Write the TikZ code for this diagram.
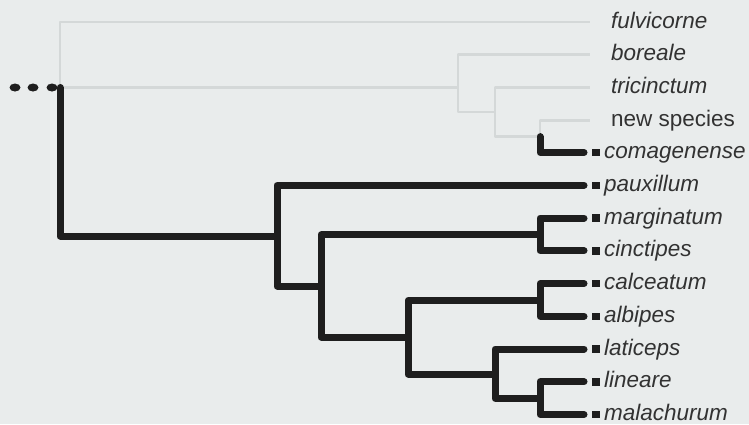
\documentclass[tikz,border=0pt]{standalone}
\usepackage{fontspec}
\setmainfont{Liberation Sans}
\usetikzlibrary{calc}
\definecolor{paper}{RGB}{233,236,236}
\definecolor{ghost}{RGB}{212,216,216}
\definecolor{ink}{RGB}{30,30,30}
\definecolor{txt}{RGB}{50,50,50}

\begin{document}
\begin{tikzpicture}[
            x=1pt, y=-1pt,
            font=\fontsize{22.5}{26}\selectfont,
            branch/.style ={line width=7pt, draw=ink, line join=round, line cap=round},
            faint/.style  ={line width=2.8pt, draw=ghost, line join=round},
            taxon/.style  ={anchor=base west, inner sep=0pt, text=txt, font=\fontsize{22.5}{26}\selectfont\itshape},
            tipbox/.style ={fill=ink, draw=none, minimum width=7.5pt, minimum height=7.5pt, inner sep=0pt},
            stemdot/.style={fill=ink, draw=none}
        ]

        \fill[paper] (0,0) rectangle (749,424);
        \useasboundingbox (0,0) rectangle (749,424);

        % leaf rows are 32.75px apart, first at y=22
        \foreach \name/\row in {fulvicorne/0, boreale/1, tricinctum/2, newsp/3}{
            \coordinate (\name) at (590, 22+32.75*\row);
        }
        \node[taxon] (fulvicorne-lbl) at (611, 28)    {fulvicorne};
        \node[taxon] (boreale-lbl)    at (611, 60.75) {boreale};
        \node[taxon] (tricinctum-lbl) at (611, 93.5)  {tricinctum};
        \node[taxon, font=\fontsize{22.5}{26}\selectfont] (newsp-lbl) at (611, 126.25) {new species};

        \foreach \name/\row in {comagenense/4, pauxillum/5, marginatum/6, cinctipes/7,
                                calceatum/8, albipes/9, laticeps/10, lineare/11, malachurum/12}{
            \coordinate (\name) at (584, 21.5+32.75*\row);
            \node[tipbox] (\name-box) at (596, 21.5+32.75*\row) {};
            \node[taxon] (\name-lbl) at (604, 27.5+32.75*\row) {\name};
        }

        % internal nodes
        \coordinate (root) at (60,87.5);
        \coordinate (W) at (458,87.5);
        \coordinate (X) at (495,112);
        \coordinate (Y) at (540,136.6);
        \coordinate (A) at (277,236);
        \coordinate (B) at (321,286);
        \coordinate (C) at (540,234.9);
        \coordinate (D) at (408,337);
        \coordinate (E) at (540,300.4);
        \coordinate (F) at (495,374);
        \coordinate (G) at (540,398.3);

        % faded part of the tree
        \draw[faint] (root) |- (fulvicorne);
        \draw[faint] (root) -- (W);
        \draw[faint] (W) |- (boreale);
        \draw[faint] (W) |- (X);
        \draw[faint] (X) |- (tricinctum);
        \draw[faint] (X) |- (Y);
        \draw[faint] (Y) |- (newsp);

        % highlighted clade
        \draw[branch] (Y) |- (comagenense);
        \draw[branch] (root) |- (A);
        \draw[branch] (A) |- (pauxillum);
        \draw[branch] (A) |- (B);
        \draw[branch] (B) |- (C);
        \draw[branch] (B) |- (D);
        \draw[branch] (C) |- (marginatum);
        \draw[branch] (C) |- (cinctipes);
        \draw[branch] (D) |- (E);
        \draw[branch] (D) |- (F);
        \draw[branch] (E) |- (calceatum);
        \draw[branch] (E) |- (albipes);
        \draw[branch] (F) |- (laticeps);
        \draw[branch] (F) |- (G);
        \draw[branch] (G) |- (lineare);
        \draw[branch] (G) |- (malachurum);

        \foreach \x in {15,33,52}{\fill[stemdot] (\x,87.5) ellipse (5.5 and 4);}

    \end{tikzpicture}
\end{document}
